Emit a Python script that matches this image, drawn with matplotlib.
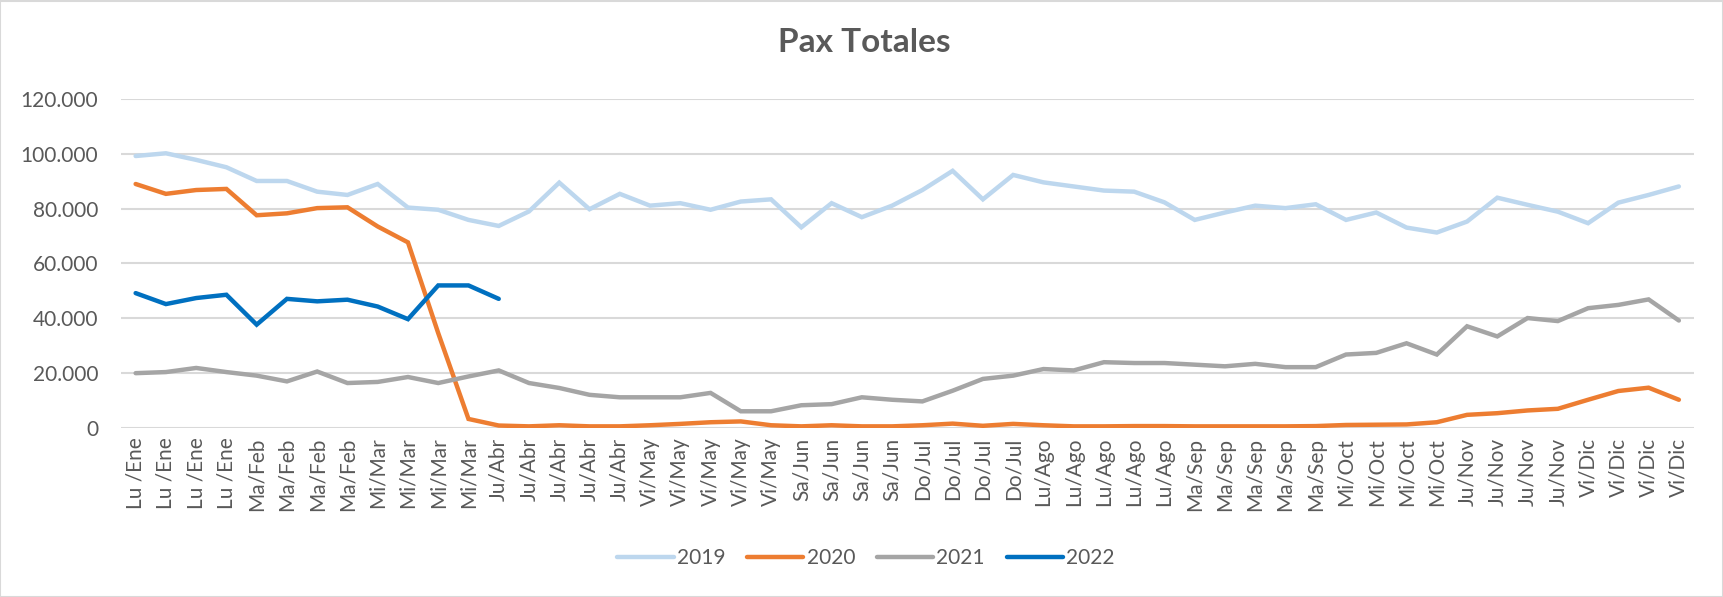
import numpy as np
import matplotlib
matplotlib.use("Agg")
import matplotlib.pyplot as plt
from matplotlib.ticker import FuncFormatter
from matplotlib.patches import Rectangle

plt.rcParams['font.family'] = ['Lato', 'DejaVu Sans']

# week labels (52 weeks)
months = [("Lu /Ene", 4), ("Ma/Feb", 4), ("Mi/Mar", 4), ("Ju/Abr", 5), ("Vi/May", 5),
          ("Sa/Jun", 4), ("Do/Jul", 4), ("Lu/Ago", 5), ("Ma/Sep", 5), ("Mi/Oct", 4),
          ("Ju/Nov", 4), ("Vi/Dic", 4)]
labels = [m for m, n in months for _ in range(n)]

# values in thousands of passengers
pax_2019 = [99.2, 100.2, 97.8, 95.1, 90.1, 90.1, 86.2, 85.0, 89.0, 80.4,
            79.6, 75.9, 73.7, 79.0, 89.5, 79.8, 85.4, 81.1, 82.0, 79.6,
            82.6, 83.4, 73.2, 82.0, 76.9, 81.1, 86.8, 93.8, 83.4, 92.3,
            89.6, 88.1, 86.6, 86.2, 82.3, 75.9, 78.6, 81.1, 80.2, 81.6,
            75.9, 78.6, 73.1, 71.3, 75.3, 84.0, 81.4, 78.9, 74.7, 82.2,
            85.0, 88.1]
pax_2020 = [89.0, 85.4, 86.8, 87.2, 77.6, 78.3, 80.2, 80.5, 73.5, 67.7,
            34.6, 3.3, 0.9, 0.6, 1.0, 0.6, 0.6, 1.0, 1.5, 2.1,
            2.4, 1.0, 0.6, 1.0, 0.6, 0.6, 1.0, 1.6, 0.8, 1.5,
            1.0, 0.6, 0.6, 0.7, 0.7, 0.6, 0.6, 0.6, 0.6, 0.7,
            1.1, 1.2, 1.3, 2.1, 4.8, 5.4, 6.4, 7.0, 10.3, 13.5,
            14.7, 10.3]
pax_2021 = [20.0, 20.4, 21.9, 20.4, 19.1, 17.0, 20.6, 16.4, 16.8, 18.6,
            16.4, 18.8, 21.0, 16.4, 14.6, 12.1, 11.2, 11.2, 11.2, 12.8,
            6.1, 6.1, 8.3, 8.7, 11.2, 10.3, 9.7, 13.6, 17.9, 19.1,
            21.5, 21.0, 24.0, 23.7, 23.7, 23.1, 22.5, 23.4, 22.2, 22.2,
            26.8, 27.4, 30.9, 26.8, 37.1, 33.4, 40.1, 39.0, 43.7, 44.9,
            46.9, 39.2]
pax_2022 = [49.2, 45.2, 47.4, 48.6, 37.7, 47.1, 46.2, 46.8, 44.3, 39.7,
            52.0, 52.0, 47.1]

series = [("2019", pax_2019, "#BDD7EE"), ("2020", pax_2020, "#ED7D31"),
          ("2021", pax_2021, "#A5A5A5"), ("2022", pax_2022, "#0070C0")]

W, H = 1724, 597
fig = plt.figure(figsize=(W / 100, H / 100), dpi=100)
ax = fig.add_axes([120.5 / W, 169 / H, (1694 - 120.5) / W, 329 / H])

for name, vals, col in series:
    v = np.array(vals) * 1000
    ax.plot(np.arange(len(v)), v, color=col, lw=3.2, label=name,
            solid_joinstyle='miter', solid_capstyle='round')

ax.set_xlim(-0.5, len(labels) - 0.5)
ax.set_ylim(0, 120000)
ax.set_yticks(np.arange(0, 120001, 20000))
ax.yaxis.set_major_formatter(FuncFormatter(lambda v, p: f"{int(v):,}".replace(",", ".")))
ax.set_xticks(np.arange(len(labels)))
ax.set_xticklabels(labels, rotation=90)
ax.yaxis.grid(True, color="#D9D9D9", lw=1.5)
ax.set_axisbelow(True)
for s in ax.spines.values():
    s.set_visible(False)
ax.tick_params(axis='both', length=0, colors="#595959", labelsize=15)
ax.tick_params(axis='y', pad=16)
ax.tick_params(axis='x', pad=7)

fig.text(864 / W, 1 - 43 / H, "Pax Totales", ha="center", va="center",
         fontsize=24, fontweight="bold", color="#595959")

fig.legend(loc="center", bbox_to_anchor=(866 / W, 1 - 558 / H), ncol=4,
           frameon=False, fontsize=15, handlelength=2.7, handletextpad=0.15,
           columnspacing=1.05, labelcolor="#595959")

fig.patches.append(Rectangle((0.5 / W, 0.5 / H), 1 - 1.5 / W, 1 - 1.5 / H,
                             transform=fig.transFigure, fill=False,
                             edgecolor="#D9D9D9", lw=1.5))

fig.savefig("out.png", dpi=100, facecolor="white")
